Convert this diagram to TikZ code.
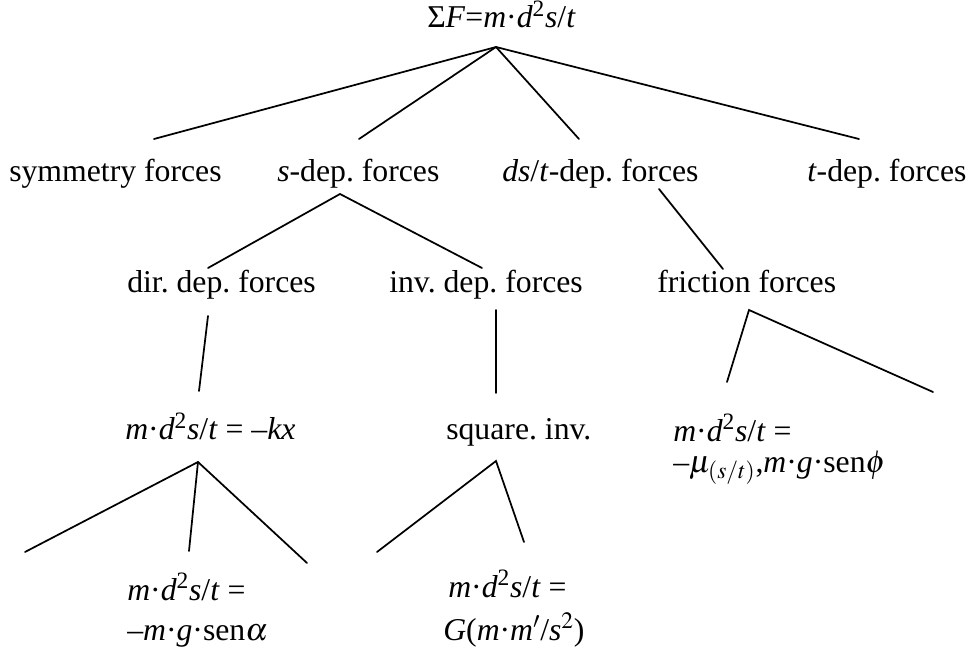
\documentclass[tikz,border=0pt]{standalone}
\usepackage{mathptmx}
\usepackage{fontspec}
\setmainfont{Liberation Serif}
\frenchspacing
\newcommand{\accel}{\textit{m}·\textit{d}\textsuperscript{2}\textit{s}/\textit{t}}

\begin{document}
\begin{tikzpicture}[x=0.75pt, y=-0.75pt,
  font=\fontsize{23.8}{28}\selectfont,
  lbl/.style={anchor=base west, inner sep=0pt},
  br/.style={line width=1.3pt, line cap=round},
]
\useasboundingbox (0,0) rectangle (968,652);

% Root
\node[lbl] (root) at (427,28) {Σ\textit{F}=\accel};

% First level
\node[lbl] (sym)   at (9,182)   {symmetry forces};
\node[lbl] (sdep)  at (277,182) {\textit{s}-dep. forces};
\node[lbl] (dsdep) at (502,182) {\textit{ds}/\textit{t}-dep. forces};
\node[lbl] (tdep)  at (807,182) {\textit{t}-dep. forces};

% Second level
\node[lbl] (dirdep) at (127,293) {dir. dep. forces};
\node[lbl] (invdep) at (389,293) {inv. dep. forces};
\node[lbl] (fric)   at (657,293) {friction forces};

% Third level
\node[lbl] (hooke) at (125,440) {\accel{} = –\textit{kx}};
\node[lbl] (sqinv) at (446,440) {square. inv.};
\node[lbl] (fric-eq)  at (673,441) {\accel{} =};
\node[lbl] (fric-eq2) at (673,472) {–$\mu_{(s/t)}$,\textit{m}·\textit{g}·sen$\phi$};

% Bottom level
\node[lbl] (pend-eq)  at (127,600) {\accel{} =};
\node[lbl] (pend-eq2) at (127,640) {–\textit{m}·\textit{g}·sen$\alpha$};
\node[lbl] (grav-eq)  at (448,597) {\accel{} =};
\node[lbl] (grav-eq2) at (443,640) {\textit{G}(\textit{m}·\textit{m}$'$/\textit{s}$^{2}$)};

% Branch points and free ends
\coordinate (root-fork) at (496,47);
\coordinate (sym-top)   at (154,139);
\coordinate (sdep-top)  at (359,139);
\coordinate (dsdep-top) at (579,139);
\coordinate (tdep-top)  at (859,139);

\coordinate (sdep-fork)  at (340,194);
\coordinate (dirdep-top) at (208,268);
\coordinate (invdep-top) at (482,268);

\coordinate (dsdep-bot) at (659,189);
\coordinate (fric-top)  at (723,269);

\coordinate (dirdep-bot) at (208,316);
\coordinate (hooke-top)  at (199,391);
\coordinate (invdep-bot) at (496,310);
\coordinate (sqinv-top)  at (496,393);

\coordinate (fric-fork) at (749,310);
\coordinate (fric-l)    at (727,382);
\coordinate (fric-r)    at (933,392);

\coordinate (hooke-fork) at (198,462);
\coordinate (hooke-l)    at (25,552);
\coordinate (hooke-m)    at (189,551);
\coordinate (hooke-r)    at (307,563);

\coordinate (sqinv-fork) at (496,461);
\coordinate (sqinv-l)    at (377,552);
\coordinate (sqinv-r)    at (524,542);

% Branches
\foreach \e in {sym-top,sdep-top,dsdep-top,tdep-top}
  \draw[br] (root-fork) -- (\e);
\foreach \e in {dirdep-top,invdep-top}
  \draw[br] (sdep-fork) -- (\e);
\draw[br] (dsdep-bot) -- (fric-top);
\draw[br] (dirdep-bot) -- (hooke-top);
\draw[br] (invdep-bot) -- (sqinv-top);
\draw[br] (fric-l) -- (fric-fork) -- (fric-r);
\foreach \e in {hooke-l,hooke-m,hooke-r}
  \draw[br] (hooke-fork) -- (\e);
\draw[br] (sqinv-l) -- (sqinv-fork) -- (sqinv-r);

\end{tikzpicture}
\end{document}
